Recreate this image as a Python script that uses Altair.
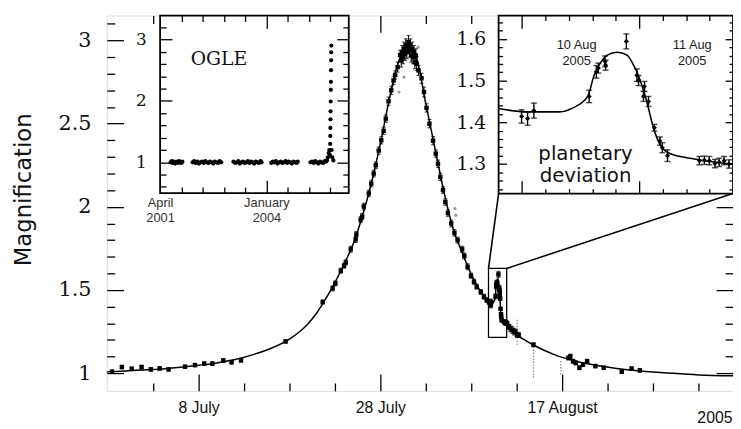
import altair as alt
import pandas as pd

# ---------------- values ----------------
# Main panel: x = days after 8 July 2005 (00h), y = magnification
model_day = [-10.1, -8, -6, -4, -2, 0, 2, 4, 6, 8, 10, 11, 12, 13, 14, 15, 16, 17, 18, 19,
             20, 21, 22, 22.5, 23, 23.5, 24, 25, 26, 27, 28, 29, 30, 31, 31.5,
             31.9, 32.14, 32.42, 32.53, 32.66, 32.715, 32.757, 32.827, 32.911, 32.996,
             33.052, 33.108, 33.164, 33.221, 33.276, 33.347, 33.487, 33.656, 33.9,
             34.5, 35, 36, 37, 38, 39, 40, 41, 42, 43, 44, 46, 48, 50, 52, 55, 58.8]
model_mag = [1.008, 1.014, 1.020, 1.026, 1.036, 1.048, 1.062, 1.082, 1.112, 1.150, 1.205, 1.245,
             1.295, 1.362, 1.448, 1.545, 1.655, 1.775, 1.940, 2.140,
             2.380, 2.650, 2.870, 2.935, 2.958, 2.945, 2.890, 2.620, 2.355, 2.090, 1.870, 1.725,
             1.595, 1.495, 1.458,
             1.433, 1.425, 1.425, 1.434, 1.462, 1.513, 1.537, 1.561, 1.568, 1.561,
             1.537, 1.501, 1.450, 1.387, 1.347, 1.327, 1.316, 1.308, 1.300,
             1.262, 1.232, 1.196, 1.165, 1.138, 1.115, 1.095, 1.080, 1.066, 1.055, 1.045, 1.029,
             1.017, 1.008, 1.000, 0.990, 0.985]

obs_day = [-9.53, -8.44, -7.36, -6.27, -5.25, -4.28, -3.30, -1.49, -0.40, 0.62, 1.52, 2.72, 3.63,
           4.67, 9.57, 13.66,
           14.75, 15.05, 15.65, 16.01, 16.20, 16.74, 17.28, 17.36, 17.83, 18.00, 18.18, 18.73,
           19.00, 19.27, 19.50, 19.82, 20.10, 20.36, 20.60, 20.90, 21.20, 21.45, 21.63, 21.90, 22.17,
           22.30, 22.40, 22.50, 22.60, 22.70, 22.80, 22.90, 23.00, 23.10, 23.20, 23.30, 23.40,
           23.50, 23.60, 23.70, 23.80, 23.90, 24.00, 24.20,
           24.53, 24.80, 25.08, 25.40, 25.80, 26.10, 26.34, 26.60, 26.89, 27.15, 27.43, 27.80,
           28.15, 28.50, 29.00, 29.24, 29.60, 29.97, 30.30, 30.60, 31.05, 31.40, 31.70, 31.96,
           33.95, 34.13, 34.30, 34.50, 34.70, 34.86, 35.03, 35.22, 36.85,
           40.70, 40.90, 41.20, 41.50, 41.90, 42.30, 42.75, 43.66, 44.57, 46.56, 47.64, 48.55]
obs_mag = [1.009, 1.037, 1.027, 1.037, 1.023, 1.029, 1.023, 1.039, 1.049, 1.058, 1.058, 1.076, 1.066,
           1.078, 1.191, 1.428,
           1.510, 1.540, 1.616, 1.646, 1.666, 1.745, 1.804, 1.834, 1.923, 1.942, 2.002, 2.081,
           2.140, 2.200, 2.250, 2.338, 2.400, 2.457, 2.530, 2.635, 2.700, 2.760, 2.793, 2.840, 2.912,
           2.880, 2.930, 2.900, 2.950, 2.920, 2.970, 2.930, 2.960, 2.990, 2.940, 2.970, 2.910,
           2.950, 2.900, 2.930, 2.870, 2.910, 2.860, 2.820,
           2.773, 2.690, 2.595, 2.500, 2.398, 2.320, 2.259, 2.180, 2.101, 2.030, 1.963, 1.900,
           1.844, 1.800, 1.745, 1.705, 1.640, 1.586, 1.550, 1.520, 1.488, 1.460, 1.440, 1.428,
           1.300, 1.280, 1.270, 1.260, 1.250, 1.250, 1.230, 1.230, 1.171,
           1.092, 1.102, 1.072, 1.062, 1.033, 1.052, 1.072, 1.043, 1.033, 1.009, 1.028, 1.017]
obs_err = [0.010, 0.010, 0.010, 0.010, 0.010, 0.010, 0.010, 0.010, 0.010, 0.010, 0.010, 0.012, 0.010,
           0.012, 0.010, 0.012,
           0.015, 0.015, 0.015, 0.015, 0.015, 0.018, 0.018, 0.018, 0.018, 0.018, 0.020, 0.020,
           0.020, 0.020, 0.020, 0.022, 0.022, 0.022, 0.022, 0.025, 0.025, 0.025, 0.025, 0.030, 0.030,
           0.040, 0.040, 0.040, 0.040, 0.040, 0.040, 0.040, 0.040, 0.040, 0.040, 0.040, 0.040,
           0.040, 0.040, 0.040, 0.040, 0.040, 0.040, 0.030,
           0.030, 0.030, 0.025, 0.025, 0.025, 0.022, 0.022, 0.022, 0.020, 0.020, 0.020, 0.020,
           0.020, 0.018, 0.018, 0.018, 0.018, 0.015, 0.015, 0.015, 0.015, 0.015, 0.015, 0.015,
           0.012, 0.015, 0.020, 0.020, 0.020, 0.015, 0.015, 0.015, 0.012,
           0.012, 0.012, 0.012, 0.012, 0.012, 0.012, 0.012, 0.010, 0.010, 0.010, 0.010, 0.010]

# planetary deviation (shown in main panel and in the right inset)
dev_day = [32.096, 32.147, 32.201, 32.673, 32.734, 32.751, 32.808, 32.813, 32.990, 33.080, 33.094,
           33.136, 33.145, 33.179, 33.229, 33.276, 33.297, 33.341, 33.613, 33.656, 33.698, 33.746,
           33.782, 33.824, 33.866]
dev_mag = [1.414, 1.409, 1.428, 1.462, 1.521, 1.530, 1.546, 1.537, 1.594, 1.513, 1.500,
           1.462, 1.486, 1.450, 1.387, 1.355, 1.339, 1.320, 1.308, 1.309, 1.308, 1.301,
           1.304, 1.308, 1.300]
dev_err = [0.016, 0.016, 0.018, 0.015, 0.015, 0.012, 0.013, 0.012, 0.018, 0.015, 0.012,
           0.012, 0.012, 0.012, 0.008, 0.010, 0.012, 0.014, 0.010, 0.010, 0.010, 0.010,
           0.010, 0.010, 0.010]

# faint (grey) measurements
faint_day = [22.05, 22.60, 24.15, 28.20, 28.30]
faint_mag = [2.69, 2.78, 2.96, 1.99, 1.95]
faint_bar_day = [35.05, 36.85, 39.86]
faint_bar_lo = [1.17, 0.973, 0.993]
faint_bar_hi = [1.33, 1.171, 1.082]

# OGLE inset: x = HJD - 2450000
ogle_hjd = [2100, 2110, 2120, 2130, 2140, 2150, 2160, 2170, 2180, 2190, 2200, 2210,
            2305, 2320, 2335, 2350, 2365, 2380, 2395, 2410, 2425, 2440, 2455, 2470, 2485, 2500,
            2515, 2530, 2545, 2560, 2575,
            2690, 2705, 2720, 2735, 2750, 2765, 2780, 2795, 2810, 2825, 2840, 2855, 2870, 2885,
            2900, 2915, 2930, 2945, 2955,
            3045, 3060, 3075, 3090, 3105, 3120, 3135, 3150, 3165, 3180, 3195, 3210, 3225, 3240,
            3255, 3270, 3285, 3295,
            3415, 3430, 3445, 3460, 3475, 3490, 3505, 3520, 3535, 3550, 3560, 3570, 3578, 3586,
            3592, 3597, 3600, 3601, 3602, 3603, 3604, 3605, 3606, 3607, 3608, 3609, 3610, 3611,
            3614, 3620, 3630]
ogle_mag = [1.00, 1.02, 0.99, 1.01, 0.98, 1.00, 1.01, 0.99, 1.02, 1.00, 0.99, 1.01,
            1.00, 1.02, 0.99, 1.01, 0.98, 1.00, 1.01, 0.99, 1.02, 1.00, 0.99, 1.01, 1.00, 0.98,
            1.01, 1.00, 0.99, 1.02, 1.00,
            1.01, 0.99, 1.00, 1.02, 0.98, 1.00, 1.01, 0.99, 1.00, 1.02, 0.99, 1.01, 1.00, 0.98,
            1.01, 1.00, 0.99, 1.02, 1.00,
            0.99, 1.01, 1.00, 1.02, 0.98, 1.00, 1.01, 0.99, 1.00, 1.02, 0.99, 1.01, 1.00, 0.98,
            1.01, 1.00, 0.99, 1.01,
            1.00, 1.01, 0.99, 1.02, 1.00, 0.98, 1.01, 1.00, 0.99, 1.02, 1.01, 1.03, 1.08, 1.15,
            1.20, 1.12, 1.30, 1.43, 1.56, 1.70, 1.83, 1.99, 2.18, 2.31, 2.50, 2.66, 2.79, 2.90,
            1.20, 1.08, 1.03]

# tick values and labels
main_x_label_vals = [0, 20, 40]
main_x_label_text = ['8 July', '28 July', '17 August']
main_x_tick_vals = [-5, 0, 5, 10, 15, 20, 25, 30, 35, 40, 45, 50, 55]
main_y_label_vals = [1, 1.5, 2, 2.5, 3]
main_y_tick_vals = [1.0, 1.1, 1.2, 1.3, 1.4, 1.5, 1.6, 1.7, 1.8, 1.9, 2.0, 2.1, 2.2, 2.3, 2.4,
                    2.5, 2.6, 2.7, 2.8, 2.9, 3.0, 3.1]
ogle_x_label_vals = [2000, 3000]
ogle_x_label_text = [['April', '2001'], ['January', '2004']]
ogle_x_tick_vals = [2200, 2400, 2600, 2800, 3000, 3200, 3400, 3600]
ogle_y_label_vals = [1, 2, 3]
ogle_y_tick_vals = [0.6, 0.8, 1.0, 1.2, 1.4, 1.6, 1.8, 2.0, 2.2, 2.4, 2.6, 2.8, 3.0, 3.2]
dev_x_tick_vals = [32.1, 32.3, 32.5, 32.7, 32.9, 33.1, 33.3, 33.5, 33.7]
dev_y_label_vals = [1.3, 1.4, 1.5, 1.6]
dev_y_tick_vals = [1.24, 1.26, 1.28, 1.30, 1.32, 1.34, 1.36, 1.38, 1.40, 1.42, 1.44, 1.46,
                   1.48, 1.50, 1.52, 1.54, 1.56, 1.58, 1.60, 1.62, 1.64]
dev_dates = ['10 Aug\n2005', '11 Aug\n2005']
dev_date_day = [32.566, 33.552]
dev_date_mag = [1.585, 1.585]

# domains
MAIN_X = [-10.1, 58.8]
MAIN_Y = [0.894, 3.15]
OGLE_X = [2000, 3775]
OGLE_Y = [0.5, 3.39]
DEV_X = [31.9, 33.9]
DEV_Y = [1.229, 1.656]
BOX_Y = [1.215, 1.63]
# inset corners expressed in main-panel units (for the pointer lines)
INSET_CORNER_DAY = [33.01, 58.8]
INSET_CORNER_MAG = 2.080

# ---------------- layout ----------------
W, H = 634, 380
OGLE_PX = [54, 245]
OGLE_PY = [179.7, 0]
DEV_PX = [396.7, W]
DEV_PY = [180.3, 0]


def sc(dom, rng):
    return alt.Scale(domain=dom, range=rng, nice=False, zero=False)


sMX, sMY = sc(MAIN_X, [0, W]), sc(MAIN_Y, [H, 0])
sOX, sOY = sc(OGLE_X, OGLE_PX), sc(OGLE_Y, OGLE_PY)
sDX, sDY = sc(DEV_X, DEV_PX), sc(DEV_Y, DEV_PY)


def tick_axis(orient, offset, values, test, big, small, z=0):
    return alt.Axis(orient=orient, offset=offset, values=values, labels=False, domain=False,
                    grid=False, ticks=True,
                    tickSize={"condition": {"test": test, "value": big}, "value": small},
                    tickWidth=1.3, tickColor='black', title=None, zindex=z)


def tick_layer(xdom, ydom, sx, sy, ax, ay):
    df = pd.DataFrame({'x': xdom, 'y': ydom})
    return alt.Chart(df).mark_point(opacity=0).encode(
        x=alt.X('x:Q', scale=sx, axis=ax), y=alt.Y('y:Q', scale=sy, axis=ay))


layers = []

# ---- main panel ----
xlab_expr = " : ".join(
    f"datum.value == {v} ? '{t}'" for v, t in zip(main_x_label_vals[:-1], main_x_label_text[:-1])
) + f" : '{main_x_label_text[-1]}'"

ax_main_x = alt.Axis(orient='bottom', values=main_x_label_vals, labelExpr=xlab_expr, ticks=False,
                     tickSize=0, domain=False, grid=False, labelFont='Liberation Sans',
                     labelFontSize=16, labelPadding=9, labelColor='#111', labelFlush=False,
                     labelOverlap=False, title='2005', titleFont='Liberation Sans',
                     titleFontSize=16, titleFontWeight='normal', titleColor='#111', titleX=633,
                     titleY=32, titleAlign='right', titleBaseline='alphabetic')
ax_main_y = alt.Axis(orient='left', values=main_y_label_vals, format='~g', ticks=False, tickSize=0,
                     domain=False, grid=False, labelFont='DejaVu Serif', labelFontSize=21,
                     labelPadding=16, labelColor='#111', labelOverlap=False, title='Magnification',
                     titleFont='DejaVu Sans', titleFontSize=23, titleFontWeight='normal',
                     titleColor='#111', titleAngle=270, titleX=-77, titleY=176,
                     titleAlign='center', titleBaseline='alphabetic')

model_df = pd.DataFrame({'day': model_day, 'mag': model_mag})
layers.append(alt.Chart(model_df).mark_line(color='black', strokeWidth=1.5,
                                            interpolate='monotone').encode(
    x=alt.X('day:Q', scale=sMX, axis=ax_main_x), y=alt.Y('mag:Q', scale=sMY, axis=ax_main_y)))

all_day = obs_day + dev_day
all_mag = obs_mag + dev_mag
all_err = obs_err + dev_err
pts = pd.DataFrame({'day': all_day, 'mag': all_mag})
pts['lo'] = [m - e for m, e in zip(all_mag, all_err)]
pts['hi'] = [m + e for m, e in zip(all_mag, all_err)]
caps = pd.DataFrame({'day': all_day + all_day, 'v': list(pts['lo']) + list(pts['hi'])})

faint_bars = pd.DataFrame({'day': faint_bar_day, 'lo': faint_bar_lo, 'hi': faint_bar_hi})
layers.append(alt.Chart(faint_bars).mark_rule(color='#888', strokeWidth=1.2, strokeDash=[1.5, 1.5]).encode(
    x=alt.X('day:Q', scale=sMX, axis=None), y=alt.Y('lo:Q', scale=sMY, axis=None), y2='hi:Q'))
faint_df = pd.DataFrame({'day': faint_day, 'mag': faint_mag})
layers.append(alt.Chart(faint_df).mark_point(filled=True, color='#999', size=10, opacity=1).encode(
    x=alt.X('day:Q', scale=sMX, axis=None), y=alt.Y('mag:Q', scale=sMY, axis=None)))

layers.append(alt.Chart(pts).mark_rule(color='black', strokeWidth=1.1).encode(
    x=alt.X('day:Q', scale=sMX, axis=None), y=alt.Y('lo:Q', scale=sMY, axis=None), y2='hi:Q'))
layers.append(alt.Chart(caps).mark_tick(orient='horizontal', size=4, thickness=1.1, color='black').encode(
    x=alt.X('day:Q', scale=sMX, axis=None), y=alt.Y('v:Q', scale=sMY, axis=None)))
layers.append(alt.Chart(pts).mark_point(shape='square', filled=True, size=20, color='black',
                                        opacity=1).encode(
    x=alt.X('day:Q', scale=sMX, axis=None), y=alt.Y('mag:Q', scale=sMY, axis=None)))

major_half = "abs(datum.value*2 - round(datum.value*2)) < 0.01"
layers.append(tick_layer(MAIN_X, MAIN_Y, sMX, sMY,
                         tick_axis('top', -H, main_x_tick_vals, "datum.value % 20 == 0", 17, 8),
                         tick_axis('right', -W, main_y_tick_vals, major_half, 17, 8)))
layers.append(tick_layer(MAIN_X, MAIN_Y, sMX, sMY,
                         tick_axis('bottom', -H, main_x_tick_vals, "datum.value % 20 == 0", 17, 8),
                         tick_axis('left', -W, main_y_tick_vals, major_half, 17, 8)))

# box marking the zoomed region and pointer lines
box = pd.DataFrame({'x1': [DEV_X[0]], 'x2': [DEV_X[1]], 'y1': [BOX_Y[0]], 'y2': [BOX_Y[1]]})
layers.append(alt.Chart(box).mark_rect(fillOpacity=0, stroke='black', strokeWidth=1.3).encode(
    x=alt.X('x1:Q', scale=sMX, axis=None), x2='x2:Q',
    y=alt.Y('y1:Q', scale=sMY, axis=None), y2='y2:Q'))
conn = pd.DataFrame({'x1': DEV_X, 'y1': [BOX_Y[1], BOX_Y[1]],
                     'x2': INSET_CORNER_DAY, 'y2': [INSET_CORNER_MAG, INSET_CORNER_MAG]})
layers.append(alt.Chart(conn).mark_rule(color='black', strokeWidth=1.6).encode(
    x=alt.X('x1:Q', scale=sMX, axis=None), x2='x2:Q',
    y=alt.Y('y1:Q', scale=sMY, axis=None), y2='y2:Q'))

# ---- OGLE inset ----
olab_expr = (f"datum.value == {ogle_x_label_vals[0]} ? {ogle_x_label_text[0]} : "
             f"{ogle_x_label_text[1]}")
ax_ogle_x = alt.Axis(orient='bottom', offset=-(H - OGLE_PY[0]), values=ogle_x_label_vals,
                     labelExpr=olab_expr, ticks=False, tickSize=0, domain=False, grid=False,
                     labelFont='Liberation Sans', labelFontSize=13, labelColor='#333',
                     labelPadding=4, labelLineHeight=15, labelFlush=False, labelOverlap=False,
                     title=None, zindex=1)
ax_ogle_y = alt.Axis(orient='left', offset=-OGLE_PX[0], values=ogle_y_label_vals, format='~g',
                     ticks=False, tickSize=0, domain=False, grid=False, labelFont='DejaVu Serif',
                     labelFontSize=17, labelPadding=14, labelColor='#111', labelOverlap=False,
                     title=None, zindex=1)
ogle_frame = pd.DataFrame({'x1': [OGLE_X[0]], 'x2': [OGLE_X[1]], 'y1': [OGLE_Y[0]], 'y2': [OGLE_Y[1]]})
layers.append(alt.Chart(ogle_frame).mark_rect(fill='white', stroke='black', strokeWidth=1.8).encode(
    x=alt.X('x1:Q', scale=sOX, axis=ax_ogle_x), x2='x2:Q',
    y=alt.Y('y1:Q', scale=sOY, axis=ax_ogle_y), y2='y2:Q'))
ogle_df = pd.DataFrame({'hjd': ogle_hjd, 'mag': ogle_mag})
layers.append(alt.Chart(ogle_df).mark_circle(color='black', size=18, opacity=1).encode(
    x=alt.X('hjd:Q', scale=sOX, axis=None), y=alt.Y('mag:Q', scale=sOY, axis=None)))
ogle_txt = pd.DataFrame({'x': [2553], 'y': [2.68], 't': ['OGLE']})
layers.append(alt.Chart(ogle_txt).mark_text(font='DejaVu Serif', fontSize=19, color='#111',
                                            align='center', baseline='middle').encode(
    x=alt.X('x:Q', scale=sOX, axis=None), y=alt.Y('y:Q', scale=sOY, axis=None), text='t:N'))
major_int = "abs(datum.value - round(datum.value)) < 0.01"
layers.append(tick_layer(OGLE_X, OGLE_Y, sOX, sOY,
                         tick_axis('top', -OGLE_PY[0], ogle_x_tick_vals, "datum.value % 1000 == 0", 13, 6, 1),
                         tick_axis('right', -(W - OGLE_PX[0]), ogle_y_tick_vals, major_int, 12, 6, 1)))
layers.append(tick_layer(OGLE_X, OGLE_Y, sOX, sOY,
                         tick_axis('bottom', -H, ogle_x_tick_vals, "datum.value % 1000 == 0", 13, 6, 1),
                         tick_axis('left', -OGLE_PX[1], ogle_y_tick_vals, major_int, 12, 6, 1)))

# ---- planetary-deviation inset ----
ax_dev_y = alt.Axis(orient='left', offset=-DEV_PX[0], values=dev_y_label_vals, format='~g',
                    ticks=False, tickSize=0, domain=False, grid=False, labelFont='DejaVu Serif',
                    labelFontSize=19, labelPadding=13, labelColor='#111', labelOverlap=False,
                    title=None, zindex=1)
dev_frame = pd.DataFrame({'x1': [DEV_X[0]], 'x2': [DEV_X[1]], 'y1': [DEV_Y[0]], 'y2': [DEV_Y[1]]})
layers.append(alt.Chart(dev_frame).mark_rect(fill='white', stroke='black', strokeWidth=1.8).encode(
    x=alt.X('x1:Q', scale=sDX, axis=None), x2='x2:Q',
    y=alt.Y('y1:Q', scale=sDY, axis=ax_dev_y), y2='y2:Q'))
layers.append(alt.Chart(model_df).transform_filter(
    f"datum.day >= {DEV_X[0]} && datum.day <= {DEV_X[1]}").mark_line(
    color='black', strokeWidth=1.6, interpolate='monotone').encode(
    x=alt.X('day:Q', scale=sDX, axis=None), y=alt.Y('mag:Q', scale=sDY, axis=None)))
dpts = pd.DataFrame({'day': dev_day, 'mag': dev_mag})
dpts['lo'] = [m - e for m, e in zip(dev_mag, dev_err)]
dpts['hi'] = [m + e for m, e in zip(dev_mag, dev_err)]
dcaps = pd.DataFrame({'day': dev_day + dev_day, 'v': list(dpts['lo']) + list(dpts['hi'])})
layers.append(alt.Chart(dpts).mark_rule(color='black', strokeWidth=1.4).encode(
    x=alt.X('day:Q', scale=sDX, axis=None), y=alt.Y('lo:Q', scale=sDY, axis=None), y2='hi:Q'))
layers.append(alt.Chart(dcaps).mark_tick(orient='horizontal', size=6, thickness=1.4, color='black').encode(
    x=alt.X('day:Q', scale=sDX, axis=None), y=alt.Y('v:Q', scale=sDY, axis=None)))
layers.append(alt.Chart(dpts).mark_point(shape='diamond', filled=True, size=26, color='black',
                                         opacity=1).encode(
    x=alt.X('day:Q', scale=sDX, axis=None), y=alt.Y('mag:Q', scale=sDY, axis=None)))
date_df = pd.DataFrame({'day': dev_date_day, 'mag': dev_date_mag, 't': dev_dates})
layers.append(alt.Chart(date_df).mark_text(font='Liberation Sans', fontSize=13, color='#222',
                                           align='center', baseline='middle', lineBreak='\n',
                                           lineHeight=16).encode(
    x=alt.X('day:Q', scale=sDX, axis=None), y=alt.Y('mag:Q', scale=sDY, axis=None), text='t:N'))
pd_df = pd.DataFrame({'day': [32.642], 'mag': [1.3095], 't': ['planetary\ndeviation']})
layers.append(alt.Chart(pd_df).mark_text(font='DejaVu Sans', fontSize=20, color='#111',
                                         align='center', baseline='alphabetic', lineBreak='\n',
                                         lineHeight=22).encode(
    x=alt.X('day:Q', scale=sDX, axis=None), y=alt.Y('mag:Q', scale=sDY, axis=None), text='t:N'))
major_tenth = "abs(datum.value*10 - round(datum.value*10)) < 0.01"
major_day = "abs(datum.value - 32.1) < 0.01 || abs(datum.value - 33.1) < 0.01"
layers.append(tick_layer(DEV_X, DEV_Y, sDX, sDY,
                         tick_axis('top', -DEV_PY[0], dev_x_tick_vals, major_day, 13, 5, 1),
                         tick_axis('right', -(W - DEV_PX[0]), dev_y_tick_vals, major_tenth, 8, 4, 1)))
layers.append(tick_layer(DEV_X, DEV_Y, sDX, sDY,
                         tick_axis('bottom', -H, dev_x_tick_vals, major_day, 13, 5, 1),
                         tick_axis('left', -W, dev_y_tick_vals, major_tenth, 8, 4, 1)))

chart = alt.layer(*layers).resolve_scale(x='independent', y='independent').properties(
    width=W, height=H,
    autosize=alt.AutoSizeParams(type='none'),
    padding={'left': 100, 'top': 5, 'right': 0, 'bottom': 36},
).configure_view(stroke='black', strokeWidth=1.6).configure(background='white')

chart.save("out.html", embed_options={"renderer": "svg", "actions": False})
